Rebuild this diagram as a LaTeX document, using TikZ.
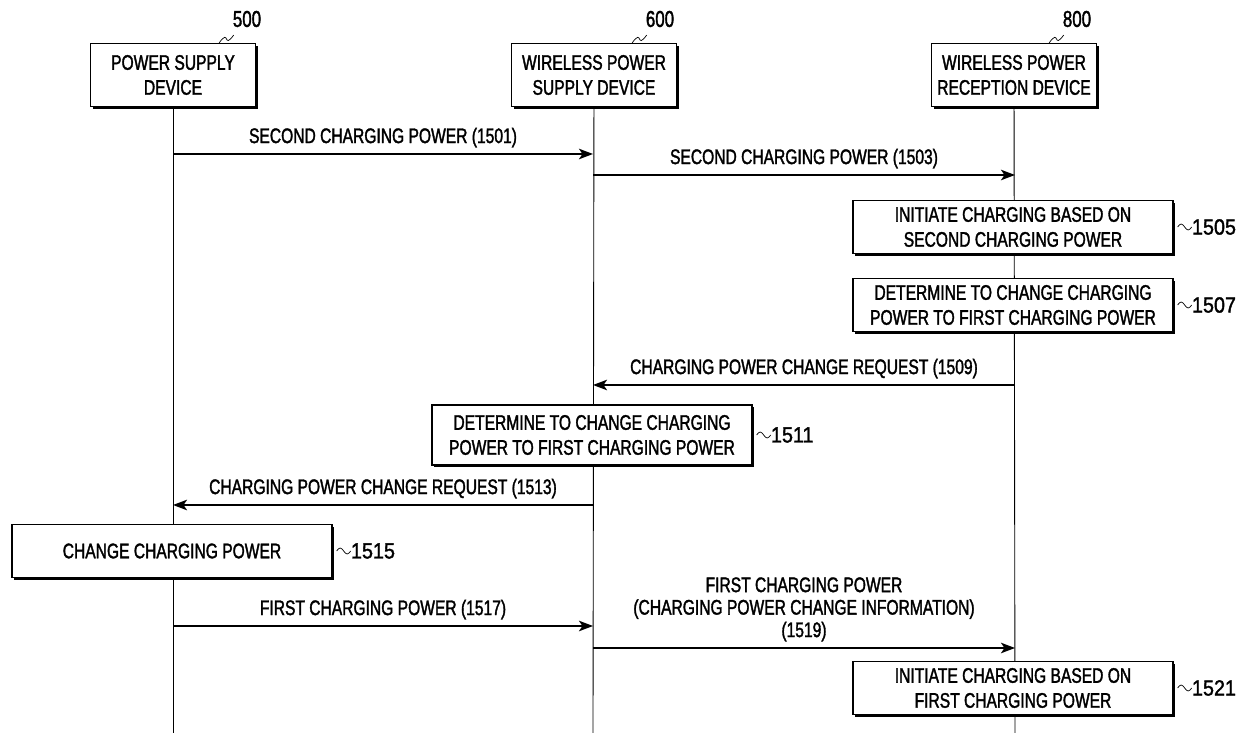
\documentclass[tikz,border=0pt]{standalone}
\usepackage{fontspec}
\setmainfont{Liberation Sans}[FakeStretch=0.74, FakeBold=1.6]
\newfontfamily\tagfont{Liberation Sans}[FakeStretch=0.9, FakeBold=1.6]
\usetikzlibrary{arrows.meta,shadows}

\tikzset{
  entity/.style={draw, line width=0.8pt, fill=white, align=center,
    minimum width=3.3cm, minimum height=1.26cm, inner sep=1pt,
    drop shadow={shadow xshift=1.4pt, shadow yshift=-1.4pt, fill=black, opacity=1}},
  stepbox/.style={entity, minimum width=6.4cm, minimum height=1.06cm},
  msg/.style={line width=0.8pt, -{Stealth[length=8pt, width=6pt, inset=2pt]}},
  life/.style={line width=0.5pt},
  tag/.style={anchor=west, inner sep=0pt, font=\tagfont\fontsize{12.5}{14}\selectfont},
  refno/.style={font=\fontsize{13}{14}\selectfont},
}

\begin{document}
\begin{tikzpicture}[x=0.02cm, y=-0.02cm, font=\fontsize{12}{14.2}\selectfont]
    \useasboundingbox (0,0) rectangle (1249,733);

    % Devices
    \node[entity] (psd) at (173,75) {POWER SUPPLY\\DEVICE};
    \node[entity] (wpsd) at (594,75) {WIRELESS POWER\\SUPPLY DEVICE};
    \node[entity] (wprd) at (1014,75) {WIRELESS POWER\\RECEPTION DEVICE};

    % Reference numerals of the devices
    \node[refno] (n500) at (247,19) {500};
    \node[refno] (n600) at (660,19) {600};
    \node[refno] (n800) at (1077,19) {800};
    \draw ([xshift=-0.74cm]psd.north east) .. controls +(11,-15) and +(-11,15) .. ([xshift=4pt,yshift=-1pt]n500.south west);
    \draw ([xshift=-0.9cm]wpsd.north east) .. controls +(11,-15) and +(-11,15) .. ([xshift=4pt,yshift=-1pt]n600.south west);
    \draw ([xshift=-0.96cm]wprd.north east) .. controls +(11,-15) and +(-11,15) .. ([xshift=4pt,yshift=-1pt]n800.south west);

    % Lifelines
    \coordinate (psd end) at (173,733);
    \coordinate (wpsd end) at (593,733);
    \coordinate (wprd end) at (1015,733);
    \draw[life] (psd) -- (psd end);
    \draw[life] (wpsd) -- (wpsd end);
    \draw[life] (wprd) -- (wprd end);

    % Message end points
    \coordinate (psd-1501) at (173,154);  \coordinate (wpsd-1501) at (593,154);
    \coordinate (wpsd-1503) at (593,175); \coordinate (wprd-1503) at (1015,175);
    \coordinate (wprd-1509) at (1015,385); \coordinate (wpsd-1509) at (593,385);
    \coordinate (wpsd-1513) at (593,505); \coordinate (psd-1513) at (173,505);
    \coordinate (psd-1517) at (173,626);  \coordinate (wpsd-1517) at (593,626);
    \coordinate (wpsd-1519) at (593,648); \coordinate (wprd-1519) at (1015,648);

    % Messages
    \draw[msg] (psd-1501) -- node[above] {SECOND CHARGING POWER (1501)} (wpsd-1501);
    \draw[msg] (wpsd-1503) -- node[above] {SECOND CHARGING POWER (1503)} (wprd-1503);
    \draw[msg] (wprd-1509) -- node[above] {CHARGING POWER CHANGE REQUEST (1509)} (wpsd-1509);
    \draw[msg] (wpsd-1513) -- node[above] {CHARGING POWER CHANGE REQUEST (1513)} (psd-1513);
    \draw[msg] (psd-1517) -- node[above] {FIRST CHARGING POWER (1517)} (wpsd-1517);
    \draw[msg] (wpsd-1519) -- node[above, align=center, font=\fontsize{12}{12.8}\selectfont]
        {FIRST CHARGING POWER\\(CHARGING POWER CHANGE INFORMATION)\\(1519)} (wprd-1519);

    % Operations
    \node[stepbox] (b1505) at (1013,227) {INITIATE CHARGING BASED ON\\SECOND CHARGING POWER};
    \node[stepbox] (b1507) at (1013,305) {DETERMINE TO CHANGE CHARGING\\POWER TO FIRST CHARGING POWER};
    \node[stepbox, minimum height=1.2cm] (b1511) at (592,435) {DETERMINE TO CHANGE CHARGING\\POWER TO FIRST CHARGING POWER};
    \node[stepbox] (b1515) at (172,551) {CHANGE CHARGING POWER};
    \node[stepbox] (b1521) at (1013,688) {INITIATE CHARGING BASED ON\\FIRST CHARGING POWER};

    % Reference numerals of the operations
    \node[tag] (t1505) at ([xshift=0.36cm]b1505.east) {1505};
    \node[tag] (t1507) at ([xshift=0.36cm]b1507.east) {1507};
    \node[tag] (t1511) at ([xshift=0.36cm]b1511.east) {1511};
    \node[tag] (t1515) at ([xshift=0.36cm]b1515.east) {1515};
    \node[tag] (t1521) at ([xshift=0.36cm]b1521.east) {1521};
    \draw ([xshift=0.08cm]b1505.east) sin ++(3.5,-3) cos ++(3.5,3) sin ++(3.5,3) cos ++(3.5,-3);
    \draw ([xshift=0.08cm]b1507.east) sin ++(3.5,-3) cos ++(3.5,3) sin ++(3.5,3) cos ++(3.5,-3);
    \draw ([xshift=0.08cm]b1511.east) sin ++(3.5,-3) cos ++(3.5,3) sin ++(3.5,3) cos ++(3.5,-3);
    \draw ([xshift=0.08cm]b1515.east) sin ++(3.5,-3) cos ++(3.5,3) sin ++(3.5,3) cos ++(3.5,-3);
    \draw ([xshift=0.08cm]b1521.east) sin ++(3.5,-3) cos ++(3.5,3) sin ++(3.5,3) cos ++(3.5,-3);
\end{tikzpicture}
\end{document}
